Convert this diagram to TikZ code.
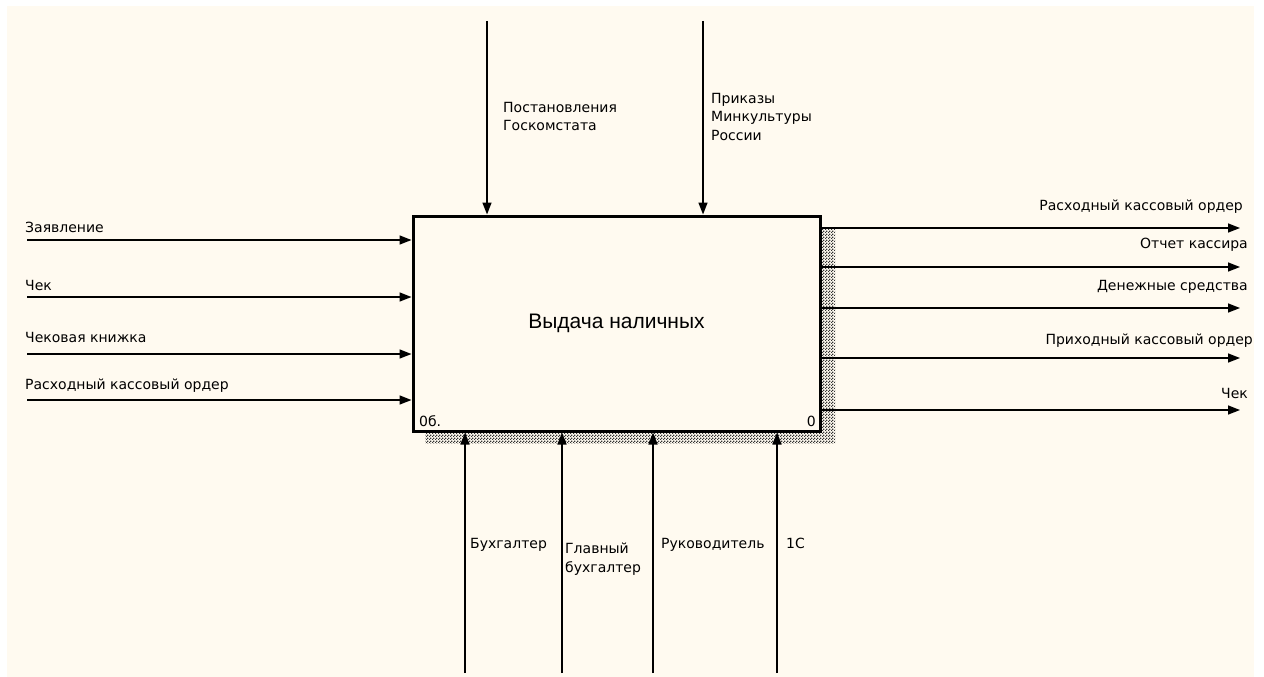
\documentclass[tikz,border=0pt]{standalone}
\usepackage{fontspec}
\setmainfont{DejaVu Sans}
\newfontfamily\titlefont{Liberation Sans}
\usetikzlibrary{arrows.meta,patterns}
\definecolor{paper}{RGB}{255,250,240}
% fine checkerboard used for the box shadow
\pgfdeclarepatternformonly{chk}{\pgfpointorigin}{\pgfqpoint{3pt}{3pt}}{\pgfqpoint{3pt}{3pt}}{%
  \pgfpathrectangle{\pgfpointorigin}{\pgfqpoint{1.5pt}{1.5pt}}%
  \pgfpathrectangle{\pgfqpoint{1.5pt}{1.5pt}}{\pgfqpoint{1.5pt}{1.5pt}}%
  \pgfusepath{fill}}
\begin{document}
\begin{tikzpicture}[x=1pt,y=-1pt,
  flow/.style={line width=1.6pt,-{Triangle[length=12pt,width=9pt]}},
  lbl/.style={font=\fontsize{14}{18.5}\selectfont, inner sep=0pt, align=left},
  tag/.style={font=\fontsize{14}{16}\selectfont, inner sep=0pt}]
\useasboundingbox (0,0) rectangle (1264,677);
\fill[paper] (7,6) rectangle (1254,677);
% drop shadow of the activity box
\fill[pattern=chk, pattern color=black!80] (425,228) rectangle (835,443);
% activity box
\node[draw, line width=3pt, fill=paper, minimum width=407pt, minimum height=215pt,
      inner sep=0pt, font=\titlefont\fontsize{21}{24}\selectfont] (act) at (616.5,323.5) {Выдача наличных};
\node[tag, anchor=south west] (num) at (419,427) {0б.};
\node[tag, anchor=south east] (idx) at (816,427) {0};

% inputs
\coordinate (i1) at (27,240);
\coordinate (i2) at (27,297);
\coordinate (i3) at (27,354);
\coordinate (i4) at (27,400);
\foreach \c in {i1,i2,i3,i4} \draw[flow] (\c) -- (\c -| act.west);
\node[lbl, anchor=base west] (li1) at (25,232) {Заявление};
\node[lbl, anchor=base west] (li2) at (25,290) {Чек};
\node[lbl, anchor=base west] (li3) at (25,342) {Чековая книжка};
\node[lbl, anchor=base west] (li4) at (25,389) {Расходный кассовый ордер};

% controls
\coordinate (c1) at (487,21);
\coordinate (c2) at (703,21);
\foreach \c in {c1,c2} \draw[flow] (\c) -- (\c |- act.north);
\node[lbl, anchor=north west] (lc1) at (503,102) {Постановления\\Госкомстата};
\node[lbl, anchor=north west] (lc2) at (711,93) {Приказы\\Минкультуры\\России};

% mechanisms
\coordinate (m1) at (465,673);
\coordinate (m2) at (562,673);
\coordinate (m3) at (653,673);
\coordinate (m4) at (777,673);
\foreach \c in {m1,m2,m3,m4} \draw[flow] (\c) -- (\c |- act.south);
\node[lbl, anchor=north west] (lm1) at (470,538) {Бухгалтер};
\node[lbl, anchor=north west] (lm2) at (565,543) {Главный\\бухгалтер};
\node[lbl, anchor=north west] (lm3) at (661,538) {Руководитель};
\node[lbl, anchor=north west] (lm4) at (786,538) {1С};

% outputs
\coordinate (o1) at (1240,228);
\coordinate (o2) at (1240,267);
\coordinate (o3) at (1240,308);
\coordinate (o4) at (1240,358);
\coordinate (o5) at (1240,410);
\foreach \c in {o1,o2,o3,o4,o5} \draw[flow] (\c -| act.east) -- (\c);
\node[lbl, anchor=base east] (lo1) at (1243,210) {Расходный кассовый ордер};
\node[lbl, anchor=base east] (lo2) at (1248,248) {Отчет кассира};
\node[lbl, anchor=base east] (lo3) at (1248,290) {Денежные средства};
\node[lbl, anchor=base east] (lo4) at (1253,344) {Приходный кассовый ордер};
\node[lbl, anchor=base east] (lo5) at (1248,398) {Чек};
\end{tikzpicture}
\end{document}
